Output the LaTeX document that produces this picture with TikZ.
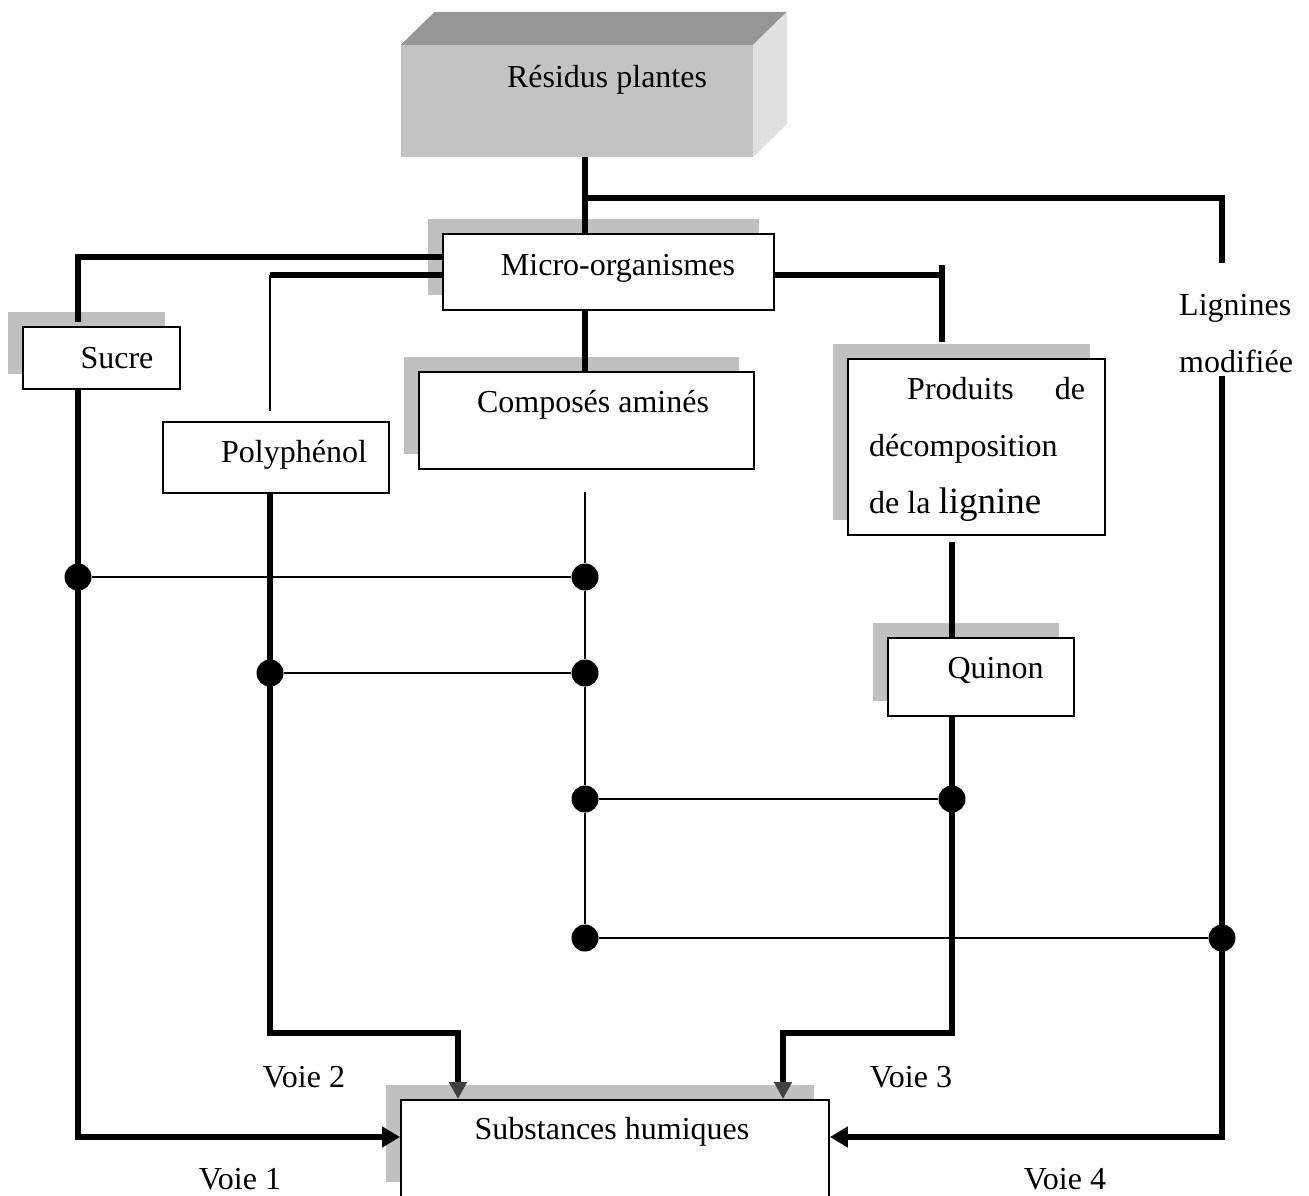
\documentclass[tikz,border=0pt]{standalone}
\usepackage{fontspec}
\setmainfont{Liberation Serif}
\usetikzlibrary{arrows.meta, positioning, fit, shadows}
\definecolor{shadowGray}{HTML}{C0C0C0}
\definecolor{frontGray}{HTML}{C3C3C3}
\definecolor{topGray}{HTML}{969696}
\definecolor{sideGray}{HTML}{E0E0E0}

\begin{document}
\begin{tikzpicture}[
  x=1pt, y=-1pt,
  font=\fontsize{32}{57}\selectfont,
  box/.style={draw, line width=1.8pt, fill=white, inner sep=0pt},
  shadowbox/.style={box, drop shadow={shadow xshift=-15pt, shadow yshift=15pt, fill=shadowGray, opacity=1}},
  txt/.style={inner sep=0pt, anchor=base},
  dot/.style={circle, fill, inner sep=0pt, minimum size=27pt},
  way/.style={line width=5.3pt},
  fine/.style={line width=2pt},
  sidetip/.style={-{Triangle[width=20pt, length=18pt]}},
  downtip/.style={-{Triangle[width=17pt, length=17pt, color=darkgray]}}
]
\useasboundingbox (0,0) rectangle (1309,1195);

% boxes
\node[fill=frontGray, inner sep=0pt, fit={(401,45) (753,157)}] (residus) {};
\fill[topGray] (residus.north west) -- ++(34,-33) -- ++(352,0) -- (residus.north east) -- cycle;
\fill[sideGray] (residus.north east) -- ++(34,-33) -- ++(0,112) -- (residus.south east) -- cycle;
\node[shadowbox, fit={(443,234) (774,310)}] (micro) {};
\node[shadowbox, fit={(23,327) (180,389)}] (sucre) {};
\node[box, fit={(163,422) (389,493)}] (poly) {};
\node[shadowbox, fit={(419,372) (754,469)}] (amines) {};
\node[shadowbox, fit={(848,359) (1105,535)}] (produits) {};
\node[shadowbox, fit={(888,638) (1074,716)}] (quinon) {};
\node[shadowbox, fit={(401,1100) (829,1197)}] (subst) {};

% texts
\node[txt] (residustxt) at (607,87) {Résidus plantes};
\node[txt] (microtxt) at (618,275) {Micro-organismes};
\node[txt] (sucretxt) at (117,368) {Sucre};
\node[txt] (polytxt) at (294,462) {Polyphénol};
\node[txt] (aminestxt) at (593,412) {Composés aminés};
\node[txt, anchor=base west, text width=216pt, align=left] (produitstxt) at (869,399)
  {\spaceskip=8pt\relax\hspace*{38pt}Produits\hfill de\\décomposition\\de la {\fontsize{37}{57}\selectfont lignine}};
\node[txt] (quinontxt) at (995.5,678) {Quinon};
\node[txt] (substtxt) at (612,1139) {Substances humiques};
\node[txt, anchor=base west, align=left] (lignines) at (1179,372) {Lignines\\modifiée};
\node[txt] (voie1) at (240,1189) {Voie 1};
\node[txt] (voie2) at (304,1087) {Voie 2};
\node[txt] (voie3) at (911,1087) {Voie 3};
\node[txt] (voie4) at (1065,1189) {Voie 4};

% junctions
\node[dot] (d1) at (78,577) {};
\node[dot] (c1) at (585,577) {};
\node[dot] (d2) at (270,673) {};
\node[dot] (c2) at (585,673) {};
\node[dot] (c3) at (585,799) {};
\node[dot] (d5) at (952,799) {};
\node[dot] (c4) at (585,938) {};
\node[dot] (d6) at (1222,938) {};
\coordinate (j0) at (585,198);
\coordinate (ltop) at (1222,263);
\coordinate (stop) at (78,322);
\coordinate (pbend) at (270,275);
\coordinate (ptop) at (270,411);
\coordinate (qbend) at (942,275);
\coordinate (qtop) at (942,342);
\coordinate (atop) at (585,492);
\coordinate (bend2) at (270,1033);
\coordinate (bend3) at (952,1033);

% links
\draw[way] (residus.south -| j0) -- (micro.north -| j0);
\draw[way] (j0) -| (ltop);
\draw[way] ([yshift=15pt]micro.west) -| (stop);
\draw[way] ([yshift=-3pt]micro.west) -- (pbend);
\draw[fine] (pbend) -- (ptop);
\draw[way] ([yshift=-3pt]micro.east) -- (qbend);
\draw[way] ([yshift=10pt]qbend) -- (qtop);
\draw[way] (micro.south -| j0) -- (amines.north -| j0);
\draw[way, shorten <=6pt] (produits.south -| d5) -- (quinon.north -| d5);
\draw[fine] (atop) -- (c1) -- (c2) -- (c3) -- (c4);
\draw[fine] (d1) -- (c1);
\draw[fine] (d2) -- (c2);
\draw[fine] (c3) -- (d5);
\draw[fine] (c4) -- (d6);
\draw[way, sidetip] (sucre.south -| d1) |- ([yshift=11.5pt]subst.west);
\draw[way, downtip] (poly.south -| d2) -- (bend2) -| ([xshift=-157pt]subst.north);
\draw[way, downtip] (quinon.south -| d5) -- (bend3) -| ([xshift=168pt]subst.north);
\draw[way, sidetip] ([yshift=-3pt]lignines.south -| d6) |- ([yshift=11.5pt]subst.east);
\end{tikzpicture}
\end{document}
